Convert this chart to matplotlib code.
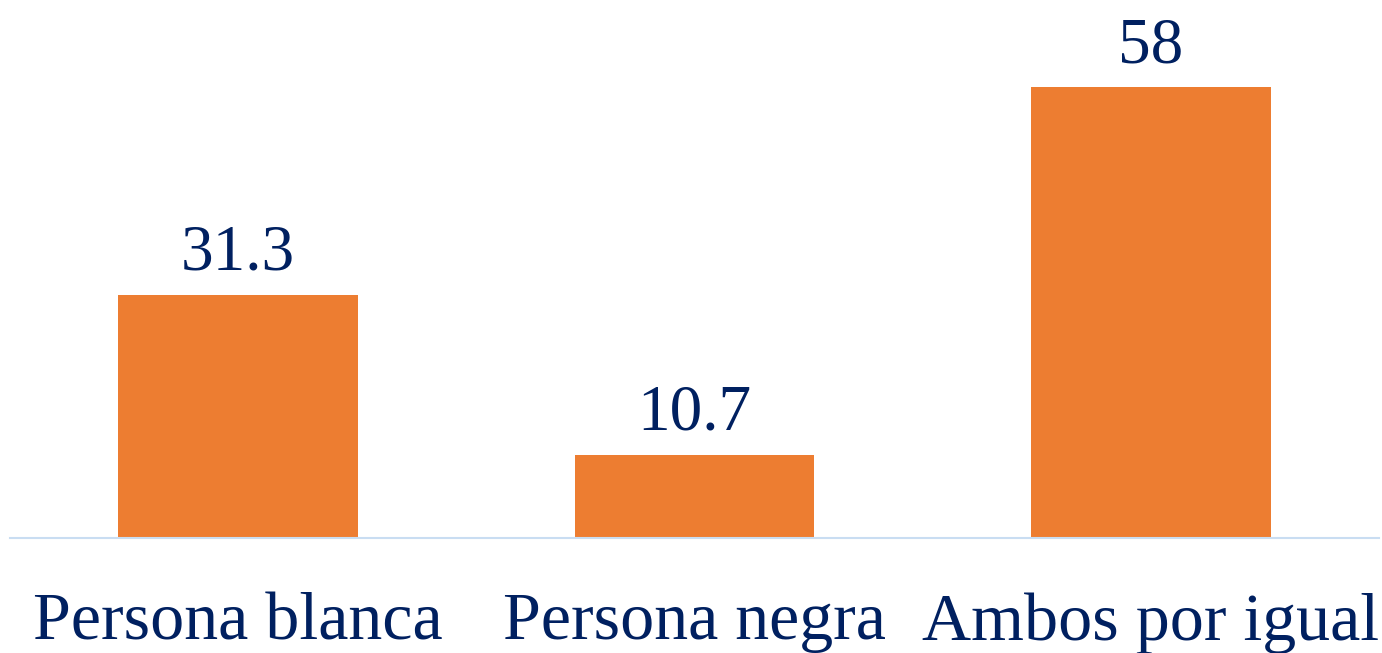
import matplotlib
matplotlib.use("Agg")
import matplotlib.pyplot as plt

# datos
categorias = ["Persona blanca", "Persona negra", "Ambos por igual"]
valores = [31.3, 10.7, 58]
etiquetas = ["31.3", "10.7", "58"]

naranja = "#ED7D31"
azul = "#002060"

plt.rcParams["font.family"] = ["Liberation Serif", "DejaVu Serif"]

fig = plt.figure(figsize=(13.82, 6.53), dpi=100)
ax = fig.add_axes([10 / 1382, 115 / 653, 1369 / 1382, 538 / 653])

x = list(range(len(categorias)))
ax.bar(x, valores, width=0.525, color=naranja, zorder=2)

ax.set_xlim(-0.5, 2.5)
ax.set_ylim(0, 69.2)

# etiquetas de valores
for i, v in enumerate(valores):
    ax.annotate(etiquetas[i], (i, v), xytext=(0, 18), textcoords="offset points",
                ha="center", va="baseline", fontsize=47, color=azul)

ax.set_xticks(x)
ax.set_xticklabels(categorias, fontsize=49, color=azul)
ax.tick_params(axis="x", length=0, pad=39)
ax.set_yticks([])

for s in ["top", "right", "left"]:
    ax.spines[s].set_visible(False)
ax.spines["bottom"].set_color("#C9DDF2")
ax.spines["bottom"].set_linewidth(1.5)

fig.savefig("out.png", dpi=100)
